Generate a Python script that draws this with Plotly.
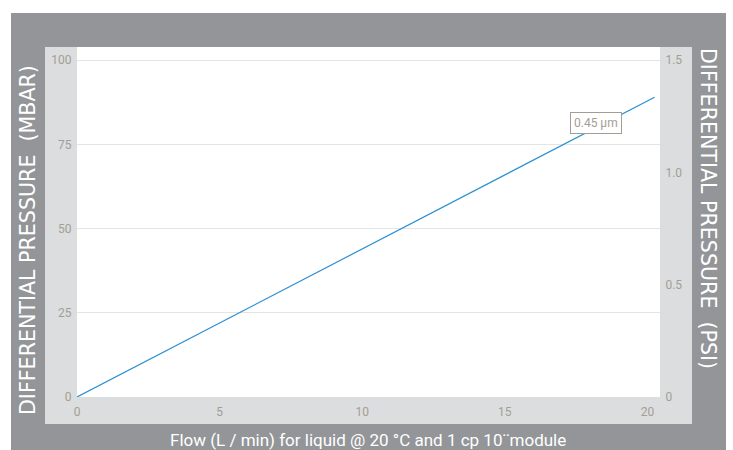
import plotly.graph_objects as go

# ---- data ----
flow_lpm = [0, 20.25]
dp_mbar = [0, 89]
x_ticks = [0, 5, 10, 15, 20]
y_ticks = [0, 25, 50, 75, 100]
y2_ticks = [0, 0.5, 1.0, 1.5]
y2_labels = ["0", "0.5", "1.0", "1.5"]
label_text = "0.45 µm"
label_pos = (18.2, 81.3)

W, H = 733, 450
L, R, T, B = 77, 660, 47, 397  # plot area px
pw, ph = R - L, B - T

def px(x):
    return (x - L) / pw

def py(y):
    return (B - y) / ph

DARK = "#939598"
LIGHT = "#dcddde"
TICK = "#a39e95"
FONT = "Roboto"
TFONT = "DejaVu Sans"

fig = go.Figure()
fig.add_trace(go.Scatter(x=flow_lpm, y=dp_mbar, mode="lines",
                         line=dict(color="#2a8fd3", width=1.2),
                         showlegend=False, hoverinfo="skip"))
# invisible trace for right axis
fig.add_trace(go.Scatter(x=[0], y=[0], yaxis="y2", mode="markers",
                         marker=dict(opacity=0), showlegend=False, hoverinfo="skip"))

shapes = [
    dict(type="rect", xref="paper", yref="paper", x0=px(11), x1=px(726), y0=py(450), y1=py(13),
         fillcolor=DARK, line=dict(width=0), layer="below"),
    dict(type="rect", xref="paper", yref="paper", x0=px(45), x1=px(692), y0=py(424), y1=py(47),
         fillcolor=LIGHT, line=dict(width=0), layer="below"),
    dict(type="rect", xref="paper", yref="paper", x0=0, x1=1, y0=0, y1=1,
         fillcolor="white", line=dict(width=0), layer="below"),
]

annotations = [
    dict(x=label_pos[0], y=label_pos[1], xref="x", yref="y", text=label_text, showarrow=False,
         font=dict(family=FONT, size=12, color=TICK), bgcolor="white",
         bordercolor=TICK, borderwidth=1, borderpad=3),
    dict(x=px(28), y=py(240), xref="paper", yref="paper", text="DIFFERENTIAL PRESSURE  (MBAR)",
         textangle=-90, showarrow=False, font=dict(family=TFONT, size=20.6, color="white"),
         xanchor="center", yanchor="middle"),
    dict(x=px(708), y=py(208), xref="paper", yref="paper", text="DIFFERENTIAL PRESSURE  (PSI)",
         textangle=90, showarrow=False, font=dict(family=TFONT, size=20.6, color="white"),
         xanchor="center", yanchor="middle"),
    dict(x=px(368), y=py(440), xref="paper", yref="paper",
         text="Flow (L / min) for liquid @ 20 °C and 1 cp 10¨module",
         showarrow=False, font=dict(family=FONT, size=17, color="white"),
         xanchor="center", yanchor="middle"),
]

fig.update_layout(
    width=W, height=H,
    margin=dict(l=L, r=W - R, t=T, b=H - B, pad=0),
    paper_bgcolor="white",
    plot_bgcolor="rgba(0,0,0,0)",
    shapes=shapes,
    annotations=annotations,
    xaxis=dict(range=[0, 20.44], tickvals=x_ticks, showgrid=False, zeroline=False,
               showline=False, ticks="outside", ticklen=4, tickcolor="rgba(0,0,0,0)",
               tickfont=dict(family=FONT, size=12, color=TICK), fixedrange=True),
    yaxis=dict(range=[0, 103.9], tickvals=y_ticks, showgrid=True, gridcolor="#e4e4e4",
               gridwidth=1, zeroline=False, showline=False, ticks="outside", ticklen=2,
               tickcolor="rgba(0,0,0,0)", tickfont=dict(family=FONT, size=12, color=TICK),
               fixedrange=True),
    yaxis2=dict(range=[0, 1.5585], tickvals=y2_ticks, ticktext=y2_labels, overlaying="y",
                side="right", showgrid=False, zeroline=False, showline=False, ticks="outside",
                ticklen=2, tickcolor="rgba(0,0,0,0)",
                tickfont=dict(family=FONT, size=12, color=TICK), fixedrange=True),
)

fig.write_html("out.html")
